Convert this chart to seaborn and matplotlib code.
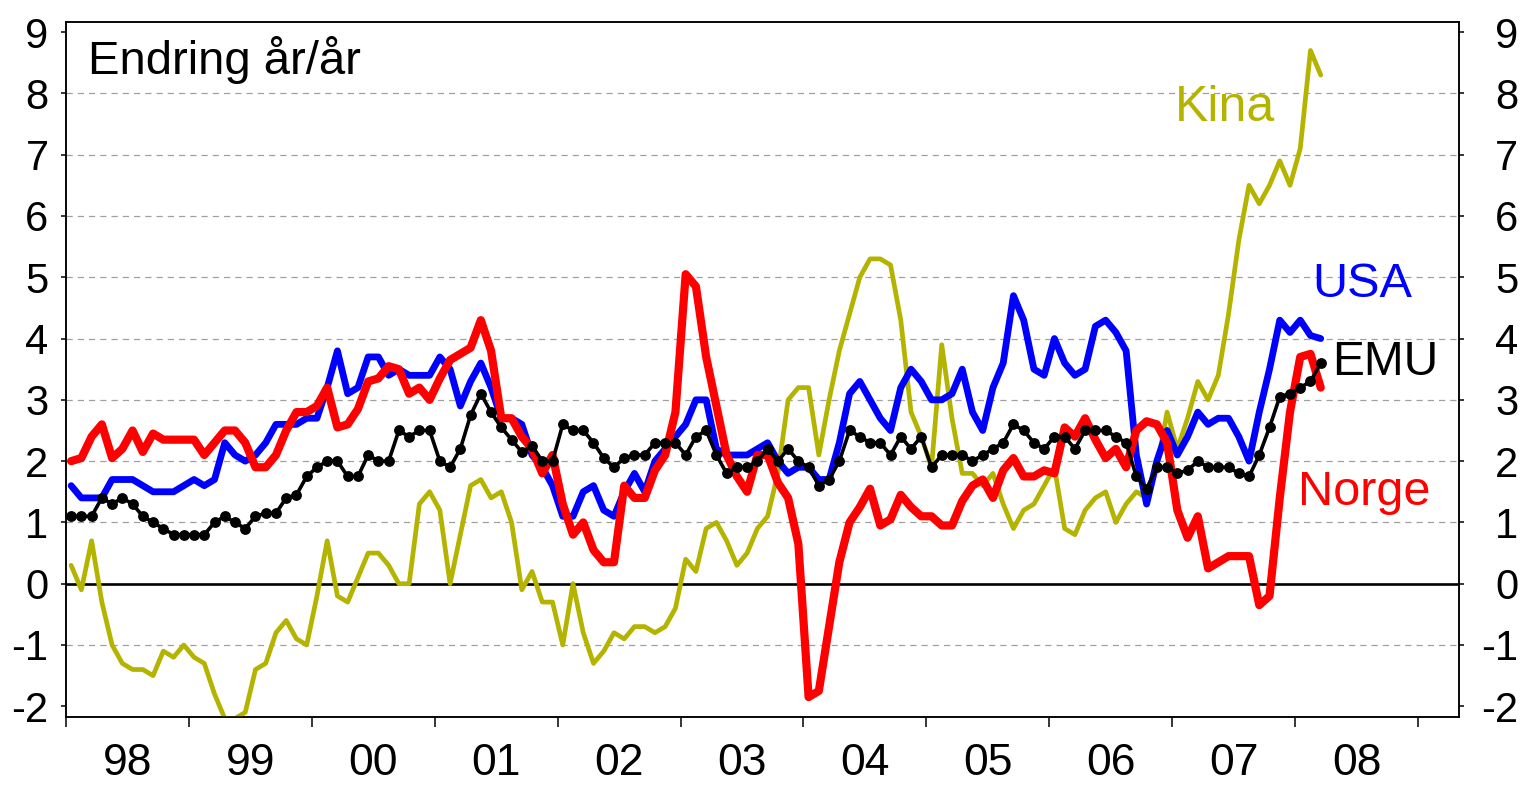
import numpy as np
import pandas as pd
import matplotlib
matplotlib.use("Agg")
import matplotlib.pyplot as plt
import seaborn as sns
from matplotlib.ticker import FixedLocator, FixedFormatter, NullFormatter

# ---------------- data (12-month change, %, monthly from Jan 1998) ----------------
start_month = "1998-01"
axis_months = 136
year_labels = ["98", "99", "00", "01", "02", "03", "04", "05", "06", "07", "08"]
y_ticks = [-2, -1, 0, 1, 2, 3, 4, 5, 6, 7, 8, 9]
y_tick_labels = ["-2", "-1", "0", "1", "2", "3", "4", "5", "6", "7", "8", "9"]
grid_levels = [-1, 1, 2, 3, 4, 5, 6, 7, 8]

usa = [1.6, 1.4, 1.4, 1.4, 1.7, 1.7, 1.7, 1.6, 1.5, 1.5, 1.5, 1.6,
       1.7, 1.6, 1.7, 2.3, 2.1, 2.0, 2.1, 2.3, 2.6, 2.6, 2.6, 2.7,
       2.7, 3.2, 3.8, 3.1, 3.2, 3.7, 3.7, 3.4, 3.5, 3.4, 3.4, 3.4,
       3.7, 3.5, 2.9, 3.3, 3.6, 3.2, 2.7, 2.7, 2.6, 2.1, 1.9, 1.6,
       1.1, 1.1, 1.5, 1.6, 1.2, 1.1, 1.5, 1.8, 1.5, 2.0, 2.2, 2.4,
       2.6, 3.0, 3.0, 2.2, 2.1, 2.1, 2.1, 2.2, 2.3, 2.0, 1.8, 1.9,
       1.9, 1.7, 1.7, 2.3, 3.1, 3.3, 3.0, 2.7, 2.5, 3.2, 3.5, 3.3,
       3.0, 3.0, 3.1, 3.5, 2.8, 2.5, 3.2, 3.6, 4.7, 4.3, 3.5, 3.4,
       4.0, 3.6, 3.4, 3.5, 4.2, 4.3, 4.1, 3.8, 2.1, 1.3, 2.0, 2.5,
       2.1, 2.4, 2.8, 2.6, 2.7, 2.7, 2.4, 2.0, 2.8, 3.5, 4.3, 4.1,
       4.3, 4.05, 4.0]

emu = [1.1, 1.1, 1.1, 1.4, 1.3, 1.4, 1.3, 1.1, 1.0, 0.9, 0.8, 0.8,
       0.8, 0.8, 1.0, 1.1, 1.0, 0.9, 1.1, 1.15, 1.15, 1.4, 1.45, 1.75,
       1.9, 2.0, 2.0, 1.75, 1.75, 2.1, 2.0, 2.0, 2.5, 2.4, 2.5, 2.5,
       2.0, 1.9, 2.2, 2.75, 3.1, 2.8, 2.55, 2.35, 2.15, 2.25, 2.0, 2.0,
       2.6, 2.5, 2.5, 2.3, 2.05, 1.9, 2.05, 2.1, 2.1, 2.3, 2.3, 2.3,
       2.1, 2.4, 2.5, 2.1, 1.8, 1.9, 1.9, 2.0, 2.2, 2.0, 2.2, 2.0,
       1.9, 1.6, 1.7, 2.0, 2.5, 2.4, 2.3, 2.3, 2.1, 2.4, 2.2, 2.4,
       1.9, 2.1, 2.1, 2.1, 2.0, 2.1, 2.2, 2.3, 2.6, 2.5, 2.3, 2.2,
       2.4, 2.4, 2.2, 2.5, 2.5, 2.5, 2.4, 2.3, 1.75, 1.55, 1.9, 1.9,
       1.8, 1.85, 2.0, 1.9, 1.9, 1.9, 1.8, 1.75, 2.1, 2.55, 3.05, 3.1,
       3.2, 3.3, 3.6]

norge = [2.0, 2.05, 2.4, 2.6, 2.05, 2.2, 2.5, 2.15, 2.45, 2.35, 2.35, 2.35,
         2.35, 2.1, 2.3, 2.5, 2.5, 2.3, 1.9, 1.9, 2.1, 2.5, 2.8, 2.8,
         2.9, 3.2, 2.55, 2.6, 2.85, 3.3, 3.35, 3.55, 3.5, 3.1, 3.2, 3.0,
         3.35, 3.65, 3.75, 3.85, 4.3, 3.8, 2.7, 2.7, 2.4, 2.2, 1.8, 2.1,
         1.3, 0.8, 1.0, 0.55, 0.35, 0.35, 1.6, 1.4, 1.4, 1.85, 2.1, 2.8,
         5.05, 4.85, 3.7, 2.9, 2.1, 1.75, 1.5, 2.1, 2.1, 1.65, 1.4, 0.65,
         -1.85, -1.75, -0.7, 0.35, 1.0, 1.25, 1.55, 0.95, 1.05, 1.45, 1.25, 1.1,
         1.1, 0.95, 0.95, 1.35, 1.6, 1.7, 1.4, 1.85, 2.05, 1.75, 1.75, 1.85,
         1.8, 2.55, 2.4, 2.7, 2.35, 2.05, 2.2, 1.9, 2.5, 2.65, 2.6, 2.3,
         1.2, 0.75, 1.1, 0.25, 0.35, 0.45, 0.45, 0.45, -0.35, -0.2, 1.4, 2.8,
         3.7, 3.75, 3.2]

kina = [0.3, -0.1, 0.7, -0.3, -1.0, -1.3, -1.4, -1.4, -1.5, -1.1, -1.2, -1.0,
        -1.2, -1.3, -1.8, -2.2, -2.2, -2.1, -1.4, -1.3, -0.8, -0.6, -0.9, -1.0,
        -0.2, 0.7, -0.2, -0.3, 0.1, 0.5, 0.5, 0.3, 0.0, 0.0, 1.3, 1.5,
        1.2, 0.0, 0.8, 1.6, 1.7, 1.4, 1.5, 1.0, -0.1, 0.2, -0.3, -0.3,
        -1.0, 0.0, -0.8, -1.3, -1.1, -0.8, -0.9, -0.7, -0.7, -0.8, -0.7, -0.4,
        0.4, 0.2, 0.9, 1.0, 0.7, 0.3, 0.5, 0.9, 1.1, 1.8, 3.0, 3.2,
        3.2, 2.1, 3.0, 3.8, 4.4, 5.0, 5.3, 5.3, 5.2, 4.3, 2.8, 2.4,
        1.9, 3.9, 2.7, 1.8, 1.8, 1.6, 1.8, 1.3, 0.9, 1.2, 1.3, 1.6,
        1.9, 0.9, 0.8, 1.2, 1.4, 1.5, 1.0, 1.3, 1.5, 1.4, 1.9, 2.8,
        2.2, 2.7, 3.3, 3.0, 3.4, 4.4, 5.6, 6.5, 6.2, 6.5, 6.9, 6.5,
        7.1, 8.7, 8.3]

series_colors = {"Kina": "#B4B400", "USA": "#0000FF", "Norge": "#FF0000", "EMU": "#000000"}

# ---------------- frame ----------------
months = pd.period_range(start_month, periods=len(usa), freq="M")
df = pd.DataFrame({"pos": np.arange(len(months)) + 0.5,
                   "Kina": kina, "USA": usa, "Norge": norge, "EMU": emu})

sns.set_style("ticks")
plt.rcParams["font.family"] = ["Liberation Sans", "DejaVu Sans"]
plt.rcParams["axes.unicode_minus"] = False

W, H = 1520, 786
fig = plt.figure(figsize=(W / 100, H / 100), dpi=100)
left_px, right_px, top_px, bot_px = 66, 1459, 21.7, 716.7
ax = fig.add_axes([left_px / W, 1 - bot_px / H, (right_px - left_px) / W, (bot_px - top_px) / H])

y_lo, y_hi = -2.17, 9.17

# grid + zero line
for g in grid_levels:
    ax.axhline(g, color="#A0A0A0", lw=0.9, ls=(0, (5, 4)), zorder=1)
ax.axhline(0, color="black", lw=1.9, zorder=2)

common = dict(ax=ax, estimator=None, errorbar=None, legend=False)
sns.lineplot(data=df, x="pos", y="Kina", color=series_colors["Kina"], linewidth=3.4,
             zorder=3, solid_joinstyle="round", solid_capstyle="round", **common)
sns.lineplot(data=df, x="pos", y="USA", color=series_colors["USA"], linewidth=4.9,
             zorder=4, solid_joinstyle="round", solid_capstyle="round", **common)
sns.lineplot(data=df, x="pos", y="Norge", color=series_colors["Norge"], linewidth=5.9,
             zorder=5, solid_joinstyle="round", solid_capstyle="round", **common)
sns.lineplot(data=df, x="pos", y="EMU", color=series_colors["EMU"], linewidth=2.6,
             marker="o", markersize=7.8, markeredgewidth=0, zorder=6,
             solid_joinstyle="round", **common)

ax.set_xlim(0, axis_months)
ax.set_ylim(y_lo, y_hi)
ax.set_xlabel("")
ax.set_ylabel("")

# x axis: tick marks at year boundaries, labels centred in each year
ax.xaxis.set_major_locator(FixedLocator(np.arange(0, axis_months, 12)))
ax.xaxis.set_major_formatter(NullFormatter())
ax.xaxis.set_minor_locator(FixedLocator(np.arange(len(year_labels)) * 12 + 6))
ax.xaxis.set_minor_formatter(FixedFormatter(year_labels))
ax.tick_params(axis="x", which="major", direction="out", length=7.2, width=1.1, color="black")
ax.tick_params(axis="x", which="minor", length=0, pad=19, labelsize=32, labelcolor="black")

# y axis left
ax.set_yticks(y_ticks)
ax.set_yticklabels(y_tick_labels)
ax.tick_params(axis="y", direction="out", length=3.6, width=1.1, pad=9, labelsize=30,
               color="black", labelcolor="black")

# y axis right (mirror)
ax2 = ax.twinx()
ax2.set_ylim(y_lo, y_hi)
ax2.set_yticks(y_ticks)
ax2.set_yticklabels(y_tick_labels, ha="right")
ax2.tick_params(axis="y", direction="out", length=3.6, width=1.1, pad=39, labelsize=30,
                color="black", labelcolor="black")

for a in (ax, ax2):
    for s in a.spines.values():
        s.set_visible(True)
        s.set_color("black")
        s.set_linewidth(1.1)

# texts
ax.text(2.15, 8.32, "Endring år/år", fontsize=34, ha="left", va="baseline", color="black")
ax.text(108.3, 7.55, "Kina", fontsize=36, ha="left", va="baseline", color=series_colors["Kina"])
ax.text(121.7, 4.67, "USA", fontsize=35, ha="left", va="baseline", color=series_colors["USA"])
ax.text(123.6, 3.41, "EMU", fontsize=34.5, ha="left", va="baseline", color=series_colors["EMU"])
ax.text(120.3, 1.29, "Norge", fontsize=35, ha="left", va="baseline", color=series_colors["Norge"])

fig.savefig("out.png", dpi=100)
